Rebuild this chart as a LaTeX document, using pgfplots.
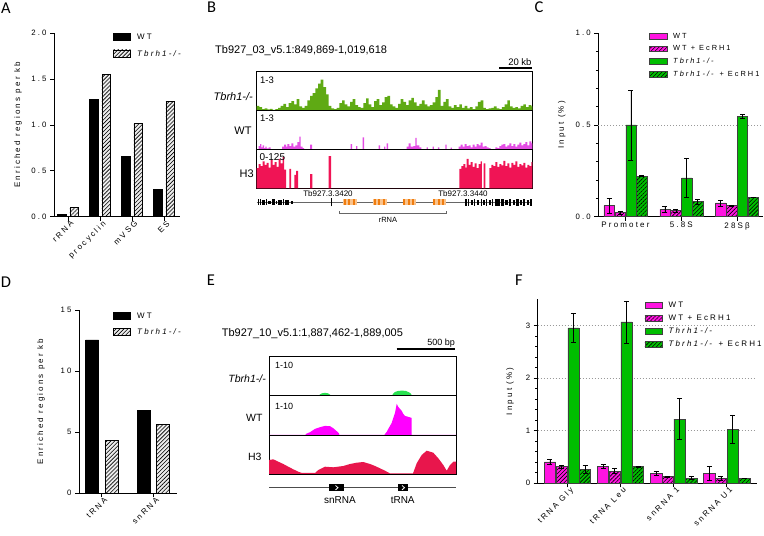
\documentclass[border=0pt]{standalone}
\usepackage{fontspec}
\setmainfont{Liberation Sans}
\newfontfamily\gp[LetterSpace=27]{Liberation Sans}
\newfontfamily\lab{Carlito}
\usepackage{pgfplots}
\pgfplotsset{compat=1.18}
\usetikzlibrary{patterns.meta}
\newcommand\gpfont{\gp\fontsize{7.8}{9}\selectfont}
\newcommand\gplfont{\gp\fontsize{8}{9.5}\selectfont}
\newcommand\gpsfont{\gp\fontsize{7.4}{9}\selectfont}
\definecolor{pinkC}{RGB}{255,20,225}
\definecolor{greenC}{RGB}{0,190,0}
\definecolor{trkgreen}{RGB}{95,170,20}
\definecolor{trkmag}{RGB}{228,77,228}
\definecolor{trkred}{RGB}{240,20,85}
\definecolor{egreen}{RGB}{40,225,80}
\definecolor{emag}{RGB}{255,0,255}
\definecolor{ered}{RGB}{232,22,76}
\definecolor{orangeG}{RGB}{240,125,15}
\definecolor{orangeL}{RGB}{250,195,140}
\pgfplotsset{
  every non boxed x axis/.append style={x axis line style={-}, xtick align=outside},
  every non boxed y axis/.append style={y axis line style={-}, ytick align=outside},
  gpaxis/.style={scale only axis, anchor=south west, axis lines=left,
    axis line style={-, black, line width=0.8pt},
    tick style={black, line width=0.7pt}, major tick length=4pt, minor tick length=2.5pt,
    tick align=outside, ticklabel style={font=\gpfont}, label style={font=\gplfont},
    /pgf/number format/assume math mode=true, ybar, clip=false},
  hatchW/.style={postaction={pattern={Lines[angle=45,distance=2.8pt,line width=0.6pt]}, pattern color=black}},
  trk/.style={scale only axis, anchor=south west, xtick=\empty, ytick=\empty,
    axis line style={black, line width=0.7pt}, ymin=0},
  gene/.style={scale only axis, anchor=south west, hide axis, clip=false, ymin=-5, ymax=5, height=10pt, unbounded coords=jump},
}
\begin{document}
\begin{tikzpicture}[x=1pt,y=1pt]
\path[use as bounding box] (0,0) rectangle (764,536);

% ---------------- Panel A
\begin{axis}[gpaxis, at={(54pt,319.3pt)}, width=126pt, height=183.4pt,
  xmin=-0.4375, xmax=3.5, ymin=0, ymax=2, ytick={0,0.5,1,1.5,2},
  yticklabel style={/pgf/number format/fixed, /pgf/number format/fixed zerofill, /pgf/number format/precision=1},
  xtick={0,1,2,3}, xticklabels={rRNA,procyclin,mVSG,ES},
  xticklabel style={font=\gplfont, rotate=45, anchor=north east, inner sep=1pt, xshift=3pt},
  ylabel={Enriched regions per kb}, ylabel style={at={(axis description cs:-0.286,0.5)}, anchor=center},
  bar width=0.27,
  legend style={at={(axis description cs:0.468,1.0)}, anchor=north west, draw=none, fill=none, inner sep=0pt,
    row sep=8pt, column sep=6pt, font=\gplfont, nodes={inner sep=0.5pt}},
  legend cell align=left,
  legend image code/.code={\draw[#1] (0pt,-3pt) rectangle (17pt,4pt);}]
\addplot[fill=black, draw=black, line width=0.4pt, bar shift=-0.19] coordinates {(0,0.025)(1,1.28)(2,0.655)(3,0.3)};
\addplot[fill=gray!15, draw=black, line width=0.5pt, hatchW, bar shift=0.19] coordinates {(0,0.10)(1,1.55)(2,1.02)(3,1.26)};
\legend{WT,\textit{Tbrh1-/-}}
\end{axis}

% ---------------- Panel D
\begin{axis}[gpaxis, at={(79pt,42.7pt)}, width=98pt, height=183.3pt,
  xmin=-0.44, xmax=1.459, ymin=0, ymax=15, ytick={0,5,10,15},
  xtick={0,1}, xticklabels={tRNA,snRNA},
  xticklabel style={font=\gplfont, rotate=45, anchor=north east, inner sep=1pt, xshift=3pt},
  ylabel={Enriched regions per kb}, ylabel style={at={(axis description cs:-0.388,0.5)}, anchor=center},
  bar width=0.252,
  legend style={at={(axis description cs:0.347,0.99)}, anchor=north west, draw=none, fill=none, inner sep=0pt,
    row sep=8pt, column sep=6pt, font=\gplfont, nodes={inner sep=0.5pt}},
  legend cell align=left,
  legend image code/.code={\draw[#1] (0pt,-3pt) rectangle (17pt,4pt);}]
\addplot[fill=black, draw=black, line width=0.4pt, bar shift=-0.185] coordinates {(0,12.55)(1,6.77)};
\addplot[fill=gray!15, draw=black, line width=0.5pt, hatchW, bar shift=0.19] coordinates {(0,4.34)(1,5.65)};
\legend{WT,\textit{Tbrh1-/-}}
\end{axis}

% ---------------- Panel C
\begin{axis}[gpaxis, at={(598.3pt,319.3pt)}, width=164.7pt, height=183.4pt,
  xmin=-0.487, xmax=2.464, ymin=0, ymax=1, ytick={0,0.5,1}, minor y tick num=4,
  yticklabel style={/pgf/number format/fixed, /pgf/number format/fixed zerofill, /pgf/number format/precision=1},
  extra y ticks={0.5}, extra y tick labels={}, extra y tick style={grid=major, major tick length=0pt},
  major grid style={black!40, line width=0.7pt, dash pattern=on 1pt off 2pt},
  xtick={0,1,2}, xticklabels={Promoter,5.8S,28Sβ}, xticklabel style={font=\gplfont, yshift=2pt},
  ylabel={Input (\%)}, ylabel style={at={(axis description cs:-0.222,0.5)}, anchor=center},
  bar width=0.185,
  error bars/y dir=both, error bars/y explicit,
  error bars/error bar style={black, line width=0.6pt},
  error bars/error mark options={rotate=90, black, line width=0.6pt, mark size=2.5pt},
  legend style={at={(axis description cs:0.308,1.003)}, anchor=north west, draw=none, fill=none, inner sep=0pt,
    row sep=4.8pt, column sep=5pt, font=\gpsfont, nodes={inner sep=0.5pt}},
  legend cell align=left,
  legend image code/.code={\draw[#1] (0pt,-2.5pt) rectangle (18pt,3pt);}]
\addplot[fill=pinkC, draw=black!75, line width=0.5pt, bar shift=-0.2925] coordinates {(0,0.06) +- (0,0.04) (1,0.04) +- (0,0.018) (2,0.075) +- (0,0.017)};
\addplot[fill=pinkC, draw=black!75, line width=0.5pt, hatchW, bar shift=-0.0975] coordinates {(0,0.022) +- (0,0.009) (1,0.033) +- (0,0.007) (2,0.06) +- (0,0.003)};
\addplot[fill=greenC, draw=black!75, line width=0.5pt, bar shift=0.0975] coordinates {(0,0.50) +- (0,0.19) (1,0.212) +- (0,0.105) (2,0.547) +- (0,0.011)};
\addplot[fill=greenC, draw=black!75, line width=0.5pt, hatchW, bar shift=0.2925] coordinates {(0,0.221) +- (0,0.002) (1,0.082) +- (0,0.014) (2,0.106) +- (0,0.002)};
\legend{WT,WT + EcRH1,\textit{Tbrh1-/-},\textit{Tbrh1-/-} + EcRH1}
\end{axis}

% ---------------- Panel F
\begin{axis}[gpaxis, at={(537.7pt,52.7pt)}, width=219pt, height=183.9pt,
  xmin=-0.561, xmax=3.563, ymin=0, ymax=3.5, ytick={0,1,2,3}, minor y tick num=4,
  ymajorgrids, major grid style={black!40, line width=0.7pt, dash pattern=on 1pt off 2pt},
  xtick={0,1,2,3}, xticklabels={tRNA Gly,tRNA Leu,snRNA 1,snRNA U1},
  xticklabel style={font=\gplfont, rotate=45, anchor=north east, inner sep=1pt, xshift=3pt},
  ylabel={Input (\%)}, ylabel style={at={(axis description cs:-0.126,0.5)}, anchor=center},
  bar width=0.21,
  error bars/y dir=both, error bars/y explicit,
  error bars/error bar style={black, line width=0.6pt},
  error bars/error mark options={rotate=90, black, line width=0.6pt, mark size=2.5pt},
  legend style={at={(axis description cs:0.487,0.9875)}, anchor=north west, draw=none, fill=none, inner sep=0pt,
    row sep=4.8pt, column sep=6pt, font=\gplfont, nodes={inner sep=0.5pt}},
  legend cell align=left,
  legend image code/.code={\draw[#1] (0pt,-2.5pt) rectangle (17pt,3.3pt);}]
\addplot[fill=pinkC, draw=black!75, line width=0.5pt, bar shift=-0.33] coordinates {(0,0.41) +- (0,0.04) (1,0.32) +- (0,0.04) (2,0.19) +- (0,0.04) (3,0.19) +- (0,0.13)};
\addplot[fill=pinkC, draw=black!75, line width=0.5pt, hatchW, bar shift=-0.11] coordinates {(0,0.317) +- (0,0.025) (1,0.234) +- (0,0.045) (2,0.127) +- (0,0.01) (3,0.095) +- (0,0.045)};
\addplot[fill=greenC, draw=black!75, line width=0.5pt, bar shift=0.11] coordinates {(0,2.96) +- (0,0.28) (1,3.07) +- (0,0.4) (2,1.22) +- (0,0.39) (3,1.03) +- (0,0.27)};
\addplot[fill=greenC, draw=black!75, line width=0.5pt, hatchW, bar shift=0.33] coordinates {(0,0.266) +- (0,0.076) (1,0.323) +- (0,0.01) (2,0.10) +- (0,0.03) (3,0.095) +- (0,0.005)};
\legend{WT,WT + EcRH1,\textit{Thrh1-/-},\textit{Tbrh1-/-} + EcRH1}
\end{axis}

% ---------------- Panel B tracks
\begin{axis}[trk, at={(256.7pt,425.5pt)}, width=275.6pt, height=38.8pt, xmin=170, xmax=997, ymax=116]
\addplot[const plot, fill=trkgreen, draw=none] coordinates {
(170,14)(178,10)(186,4)(194,6)(202,3)(210,5)(218,2)(226,4)(234,8)(242,14)(250,20)(258,10)(266,22)(274,28)(282,18)(290,34)(298,12)(306,8)(314,14)(322,30)(330,44)(338,52)(346,66)(354,80)(362,92)(370,70)(378,48)(386,14)(394,6)(402,4)(410,8)(418,22)(426,30)(434,18)(442,12)(450,26)(458,34)(466,16)(474,10)(482,8)(490,22)(498,36)(506,18)(514,10)(522,28)(530,34)(538,16)(546,24)(554,40)(562,44)(570,18)(578,12)(586,8)(594,20)(602,34)(610,26)(618,16)(626,30)(634,38)(642,24)(650,14)(658,20)(666,30)(674,18)(682,12)(690,16)(698,24)(706,40)(714,62)(722,14)(730,26)(738,34)(746,12)(754,8)(762,16)(770,10)(778,18)(786,8)(794,14)(802,6)(810,10)(818,4)(826,12)(834,26)(842,30)(850,8)(858,4)(866,6)(874,8)(882,12)(890,6)(898,4)(906,10)(914,18)(922,30)(930,12)(938,8)(946,10)(954,6)(962,14)(970,18)(978,10)(986,16)(994,12)(997,12)} \closedcycle;
\end{axis}
\begin{axis}[trk, at={(256.7pt,386.6pt)}, width=275.6pt, height=38.9pt, xmin=170, xmax=997, ymax=116]
\addplot[const plot, fill=trkmag, draw=none] coordinates {
(170,0)(176,10)(180,16)(184,6)(188,12)(192,4)(196,8)(200,3)(206,6)(212,0)(240,0)(246,8)(252,14)(258,8)(262,16)(268,10)(274,18)(280,8)(286,12)(292,22)(298,38)(302,8)(308,4)(312,0)(330,14)(336,0)(452,16)(456,0)(468,10)(472,0)(488,36)(492,0)(536,12)(540,0)(552,8)(556,0)(560,18)(564,0)(620,8)(626,18)(632,8)(640,10)(646,34)(650,12)(658,6)(664,0)(680,6)(684,0)(698,8)(702,0)(714,6)(718,0)(736,14)(740,0)(752,5)(756,0)(776,8)(782,14)(788,8)(794,16)(800,10)(806,12)(812,6)(818,14)(824,8)(830,16)(836,12)(842,20)(848,8)(854,10)(860,6)(866,4)(872,0)(886,6)(892,4)(898,10)(904,14)(910,16)(916,8)(922,12)(928,18)(934,10)(940,16)(946,8)(952,14)(958,20)(964,12)(970,16)(976,22)(982,12)(988,24)(994,18)(997,18)} \closedcycle;
\end{axis}
\begin{axis}[trk, at={(256.7pt,347.7pt)}, width=275.6pt, height=38.9pt, xmin=170, xmax=997, ymax=116]
\addplot[const plot, fill=trkred, draw=none] coordinates {
(170,60)(176,72)(182,66)(188,80)(194,70)(200,76)(206,62)(212,84)(218,70)(224,78)(230,64)(236,88)(242,74)(248,94)(252,56)(258,0)(268,58)(273,0)(283,40)(288,52)(294,0)(330,42)(337,0)(386,96)(393,0)(778,58)(784,66)(790,72)(796,62)(800,88)(806,70)(812,78)(818,64)(824,74)(830,60)(836,72)(842,80)(846,0)(851,74)(856,0)(868,60)(874,70)(880,66)(886,78)(892,64)(898,72)(904,68)(910,82)(916,66)(922,74)(928,62)(934,76)(940,70)(946,80)(952,64)(958,72)(964,68)(970,76)(976,62)(982,70)(988,66)(994,78)(997,78)} \closedcycle;
\end{axis}
% B gene track
\begin{axis}[gene, at={(256.7pt,328.7pt)}, width=275.6pt, xmin=170, xmax=997]
\addplot[black!60, line width=0.6pt] coordinates {(170,0)(997,0)};
\addplot[black, line width=6pt] coordinates {(175,0)(178,0)(178,nan)(181,0)(184,0)(184,nan)(199,0)(201,0)(201,nan)(217,0)(225,0)(225,nan)(249,0)(252,0)};
\addplot[black, line width=4.5pt] coordinates {(186,0)(196,0)(196,nan)(234,0)(246,0)(246,nan)(255,0)(268,0)};
\addplot[black, line width=3pt] coordinates {(204,0)(214,0)(214,nan)(228,0)(232,0)(232,nan)(272,0)(280,0)};
\addplot[black, line width=1pt] coordinates {(395,-4)(395,4)};
\addplot[orangeL, line width=6pt] coordinates {(430,0)(470,0)(470,nan)(520,0)(560,0)(560,nan)(608,0)(648,0)(648,nan)(698,0)(738,0)};
\addplot[orangeG, line width=6pt] coordinates {(432,0)(438,0)(438,nan)(445,0)(451,0)(451,nan)(458,0)(464,0)(464,nan)(522,0)(528,0)(528,nan)(535,0)(541,0)(541,nan)(548,0)(554,0)(554,nan)(610,0)(616,0)(616,nan)(623,0)(629,0)(629,nan)(636,0)(642,0)(642,nan)(700,0)(706,0)(706,nan)(713,0)(719,0)(719,nan)(726,0)(732,0)};
\addplot[black, line width=7pt] coordinates {(795,0)(800,0)(800,nan)(804,0)(808,0)(808,nan)(822,0)(826,0)(826,nan)(842,0)(846,0)(846,nan)(858,0)(862,0)(862,nan)(876,0)(880,0)(880,nan)(884,0)(900,0)(900,nan)(904,0)(912,0)(912,nan)(928,0)(934,0)(934,nan)(948,0)(956,0)(956,nan)(970,0)(976,0)(976,nan)(990,0)(997,0)};
\addplot[black, line width=5pt] coordinates {(812,0)(818,0)(818,nan)(830,0)(838,0)(838,nan)(850,0)(855,0)(855,nan)(866,0)(872,0)(872,nan)(916,0)(924,0)(924,nan)(938,0)(944,0)(944,nan)(960,0)(966,0)(966,nan)(980,0)(986,0)};
\addplot[black!60, line width=0.5pt] coordinates {(418,-8.5)(418,-10.7)(740,-10.7)(740,-8.5)};
\end{axis}

% ---------------- Panel E tracks
\begin{axis}[trk, at={(269pt,140.2pt)}, width=187pt, height=39.1pt, xmin=269, xmax=456, ymax=39.1]
\addplot[fill=egreen, draw=none] coordinates {(269,0)(319,0)(320,1.5)(322,2.5)(325,3)(328,2.5)(330,1.2)(331,0)(392,0)(393,2)(395,3.8)(398,4.8)(402,5.2)(406,4.8)(409,3.5)(411,2)(412,0)(456,0)} \closedcycle;
\end{axis}
\begin{axis}[trk, at={(269pt,101.1pt)}, width=187pt, height=39.1pt, xmin=269, xmax=456, ymax=39.1]
\addplot[fill=emag, draw=none] coordinates {(269,0)(305.5,0)(306,1)(310,2.7)(315,6)(320,7.7)(325,9)(330,8.7)(333.3,6.7)(336.7,3.7)(339,1.5)(339.3,0)(384.5,0)(385,1)(386.7,3)(388.3,6)(390,9)(391.7,12)(393.3,17)(395,22)(396.7,31)(398.3,28)(400,26)(401.7,24)(403.3,21)(405,19)(406.7,18.5)(408.3,18)(410,17.5)(411.5,17)(411.7,0)(456,0)} \closedcycle;
\end{axis}
\begin{axis}[trk, at={(269pt,62pt)}, width=187pt, height=39.1pt, xmin=269, xmax=456, ymax=39.1]
\addplot[fill=ered, draw=none] coordinates {(269,14)(273.3,14.7)(278.3,12.3)(283.3,10)(288.3,7.3)(293.3,4.7)(298.3,2.3)(302,1)(315,1)(318.3,4)(325,7.3)(333.3,6.7)(343.3,8)(350,10)(356.7,11.3)(363.3,12)(370,10)(375,8)(380,5.7)(385,3.3)(390,0.6)(413,0.6)(416.7,10.7)(421.7,19)(426.7,23.3)(433.3,21.3)(438.3,15.7)(443.3,9)(446.7,3.3)(450,9)(453.3,12.3)(456,12.3)} \closedcycle;
\end{axis}
% E gene track
\begin{axis}[gene, at={(269pt,43.3pt)}, width=187pt, xmin=269, xmax=456]
\addplot[black!70, line width=0.6pt] coordinates {(269,0)(456,0)};
\addplot[black, line width=7pt] coordinates {(329.3,0)(344,0)(344,nan)(398.3,0)(408.3,0)};
\addplot[white, line width=0.8pt] coordinates {(335.5,2.2)(338,0)(335.5,-2.2)(335.5,nan)(402,2.2)(404.5,0)(402,-2.2)};
\end{axis}

% ---------------- Texts
\node[font=\lab\fontsize{16.5}{18}\selectfont] at (6,527.7) {A};
\node[font=\lab\fontsize{16.5}{18}\selectfont] at (211.5,528.8) {B};
\node[font=\lab\fontsize{16.5}{18}\selectfont] at (539,528.8) {C};
\node[font=\lab\fontsize{16.5}{18}\selectfont] at (6,254) {D};
\node[font=\lab\fontsize{16.5}{18}\selectfont] at (210.8,255.5) {E};
\node[font=\lab\fontsize{16.5}{18}\selectfont] at (519,255.5) {F};

\node[anchor=west, font=\fontsize{11}{13}\selectfont, inner sep=0pt] at (215,485) {Tb927\_03\_v5.1:849,869-1,019,618};
\draw[line width=1.8pt] (499.3,468) -- (531.7,468);
\node[anchor=east, font=\fontsize{9.5}{11}\selectfont, inner sep=0pt] at (531.7,474) {20 kb};
\node[anchor=east, font=\fontsize{11}{13}\selectfont\itshape, inner sep=0pt] at (253,439.3) {Tbrh1-/-};
\node[anchor=east, font=\fontsize{11}{13}\selectfont, inner sep=0pt] at (251.7,405.3) {WT};
\node[anchor=east, font=\fontsize{11}{13}\selectfont, inner sep=0pt] at (254,362.7) {H3};
\node[anchor=west, font=\fontsize{9.5}{11}\selectfont, inner sep=0pt] at (260,456) {1-3};
\node[anchor=west, font=\fontsize{9.5}{11}\selectfont, inner sep=0pt] at (260,417.7) {1-3};
\node[anchor=west, font=\fontsize{10}{12}\selectfont, inner sep=0pt] at (259.3,379.3) {0-125};
\node[font=\fontsize{8}{9}\selectfont, inner sep=0pt] at (328,342.7) {Tb927.3.3420};
\node[font=\fontsize{8}{9}\selectfont, inner sep=0pt] at (463,342.7) {Tb927.3.3440};
\node[font=\fontsize{7.5}{9}\selectfont, inner sep=0pt] at (388,316) {rRNA};

\node[anchor=west, font=\fontsize{11}{13}\selectfont, inner sep=0pt] at (221.7,202.7) {Tb927\_10\_v5.1:1,887,462-1,889,005};
\draw[line width=1.8pt] (396.7,186.7) -- (455,186.7);
\node[anchor=east, font=\fontsize{9}{11}\selectfont, inner sep=0pt] at (455,192.7) {500 bp};
\node[anchor=east, font=\fontsize{10.5}{12}\selectfont\itshape, inner sep=0pt] at (266,157.7) {Tbrh1-/-};
\node[anchor=east, font=\fontsize{10.5}{12}\selectfont, inner sep=0pt] at (262.7,118) {WT};
\node[anchor=east, font=\fontsize{10.5}{12}\selectfont, inner sep=0pt] at (261.7,79.3) {H3};
\node[anchor=west, font=\fontsize{9}{11}\selectfont, inner sep=0pt] at (275,171) {1-10};
\node[anchor=west, font=\fontsize{9}{11}\selectfont, inner sep=0pt] at (275,129.3) {1-10};
\node[font=\fontsize{10}{12}\selectfont, inner sep=0pt] at (340,36) {snRNA};
\node[font=\fontsize{10}{12}\selectfont, inner sep=0pt] at (402.7,36) {tRNA};
\end{tikzpicture}
\end{document}
